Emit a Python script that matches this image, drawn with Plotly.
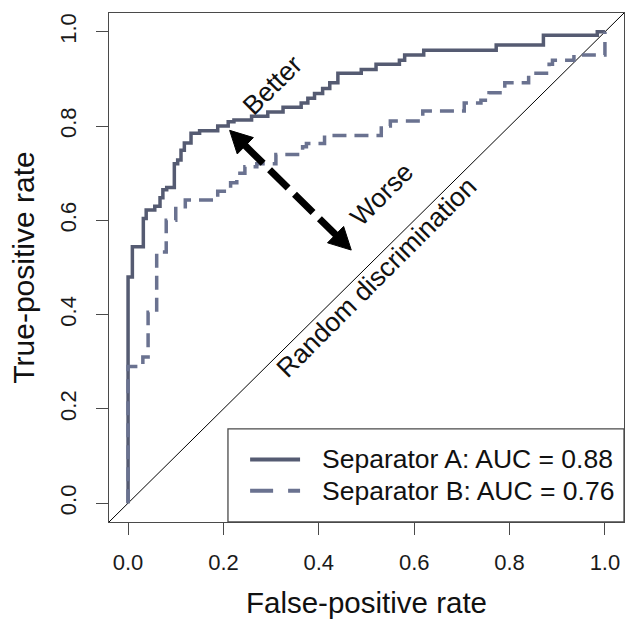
import numpy as np
import plotly.graph_objects as go

# ---------------- data ----------------
fpr_A = [0, 0, 0.009, 0.032, 0.038, 0.056, 0.067, 0.073, 0.081, 0.097, 0.104, 0.111,
         0.118, 0.132, 0.15, 0.188, 0.21, 0.222, 0.259, 0.293, 0.325, 0.363, 0.377,
         0.391, 0.408, 0.423, 0.44, 0.489, 0.52, 0.569, 0.58, 0.62, 0.772, 0.871,
         0.984, 1.0]
tpr_A = [0, 0.48, 0.544, 0.604, 0.622, 0.63, 0.648, 0.665, 0.67, 0.72, 0.728, 0.749,
         0.764, 0.785, 0.79, 0.80, 0.809, 0.813, 0.821, 0.83, 0.84, 0.849, 0.859,
         0.869, 0.88, 0.892, 0.912, 0.92, 0.931, 0.94, 0.951, 0.961, 0.972, 0.993,
         1.0, 1.0]

fpr_B = [0, 0, 0.031, 0.042, 0.06, 0.08, 0.10, 0.12, 0.188, 0.215, 0.228, 0.245,
         0.27, 0.31, 0.366, 0.374, 0.412, 0.531, 0.55, 0.618, 0.705, 0.74, 0.757,
         0.78, 0.79, 0.84, 0.883, 0.89, 0.935, 1.0]
tpr_B = [0, 0.29, 0.31, 0.405, 0.533, 0.60, 0.625, 0.643, 0.662, 0.68, 0.70, 0.714,
         0.72, 0.74, 0.756, 0.763, 0.78, 0.80, 0.811, 0.832, 0.849, 0.855, 0.871,
         0.878, 0.892, 0.912, 0.931, 0.94, 0.951, 1.0]

series_names = ["Separator A: AUC = 0.88", "Separator B: AUC = 0.76"]
tick_vals = [0.0, 0.2, 0.4, 0.6, 0.8, 1.0]
tick_text = ["0.0", "0.2", "0.4", "0.6", "0.8", "1.0"]
axis_range = [-0.04, 1.04]

# arrow between "Better" and "Worse" (tips, in data units)
arrow_tip_better = (0.213, 0.791)
arrow_tip_worse = (0.468, 0.537)

# ---------------- style ----------------
FONT = "Liberation Sans, Arial, Helvetica, sans-serif"
COL_A = "#555b72"
COL_B = "#6a7290"
AX_COL = "#4a4a4a"
W, H = 625, 620
M = dict(l=109, r=1, t=13, b=98)
PW = W - M["l"] - M["r"]
PH = H - M["t"] - M["b"]

fig = go.Figure()
fig.add_trace(go.Scatter(x=fpr_A, y=tpr_A, mode="lines", line_shape="hv",
                         name=series_names[0], showlegend=False,
                         line=dict(color=COL_A, width=3.5)))
fig.add_trace(go.Scatter(x=fpr_B, y=tpr_B, mode="lines", line_shape="hv",
                         name=series_names[1], showlegend=False,
                         line=dict(color=COL_B, width=3.5, dash="14px,8px")))

shapes = []
# random-discrimination diagonal (y = x spans the whole square plot area)
shapes.append(dict(type="line", xref="x domain", yref="y domain", x0=0, y0=0, x1=1, y1=1,
                   line=dict(color="black", width=1), layer="below"))

# ---- double-headed dashed arrow ----
span = axis_range[1] - axis_range[0]
def to_px(p):
    return np.array([(p[0] - axis_range[0]) / span * PW, (p[1] - axis_range[0]) / span * PH])
def to_data(q):
    return (q[0] / PW * span + axis_range[0], q[1] / PH * span + axis_range[0])

t1, t2 = to_px(arrow_tip_better), to_px(arrow_tip_worse)
u = (t2 - t1) / np.linalg.norm(t2 - t1)
n = np.array([-u[1], u[0]])
HL, HW = 22.0, 11.5
b1 = t1 + u * HL
b2 = t2 - u * HL
s1, s2 = to_data(b1 - u * 1), to_data(b2 + u * 1)
shapes.append(dict(type="line", xref="x", yref="y", x0=s1[0], y0=s1[1], x1=s2[0], y1=s2[1],
                   line=dict(color="black", width=7, dash="26px,9px")))
for tip, base in ((t1, b1), (t2, b2)):
    pts = [to_data(tip), to_data(base + n * HW), to_data(base - n * HW)]
    path = "M{},{} L{},{} L{},{} Z".format(*pts[0], *pts[1], *pts[2])
    shapes.append(dict(type="path", xref="x", yref="y", path=path,
                       fillcolor="black", line=dict(color="black", width=1)))

# ---- legend box (drawn manually to match the R-style legend) ----
leg_x0, leg_y1 = 0.231, 0.183
shapes.append(dict(type="rect", xref="x domain", yref="y domain", x0=leg_x0, y0=0, x1=1, y1=leg_y1,
                   line=dict(color=AX_COL, width=1.3), fillcolor="white"))
leg_rows = [0.123, 0.0615]
shapes.append(dict(type="line", xref="x domain", yref="y domain", x0=0.274, x1=0.371,
                   y0=leg_rows[0], y1=leg_rows[0], line=dict(color=COL_A, width=4)))
shapes.append(dict(type="line", xref="x domain", yref="y domain", x0=0.274, x1=0.371,
                   y0=leg_rows[1], y1=leg_rows[1], line=dict(color=COL_B, width=4, dash="23px,15px")))

annotations = []
for name, yy in zip(series_names, leg_rows):
    annotations.append(dict(xref="x domain", yref="y domain", x=0.41, y=yy, text=name,
                            showarrow=False, xanchor="left", yanchor="middle",
                            font=dict(family=FONT, size=26.5, color="#111111")))

for txt, xx, yy in (("Better", 0.303, 0.887), ("Worse", 0.533, 0.655),
                    ("Random discrimination", 0.522, 0.479)):
    annotations.append(dict(xref="x", yref="y", x=xx, y=yy, text=txt, textangle=-45,
                            showarrow=False, xanchor="center", yanchor="middle",
                            font=dict(family=FONT, size=26.5, color="#111111")))

axis_common = dict(range=axis_range, tickvals=tick_vals, ticktext=tick_text,
                   showgrid=False, zeroline=False, showline=True, mirror=True,
                   linecolor=AX_COL, linewidth=1.3, ticks="outside", ticklen=12,
                   tickwidth=1.3, tickcolor=AX_COL,
                   tickfont=dict(family=FONT, size=22, color="#1a1a1a"))

fig.update_layout(
    width=W, height=H, margin=M,
    paper_bgcolor="white", plot_bgcolor="white",
    shapes=shapes, annotations=annotations, showlegend=False,
    xaxis=dict(**axis_common, ticklabelstandoff=8,
               title=dict(text="False-positive rate", standoff=18,
                          font=dict(family=FONT, size=29.5, color="#111111"))),
    yaxis=dict(**axis_common, tickangle=-90, ticklabelstandoff=11,
               title=dict(text="True-positive rate", standoff=12,
                          font=dict(family=FONT, size=30, color="#111111"))),
)

fig.write_html("out.html")
